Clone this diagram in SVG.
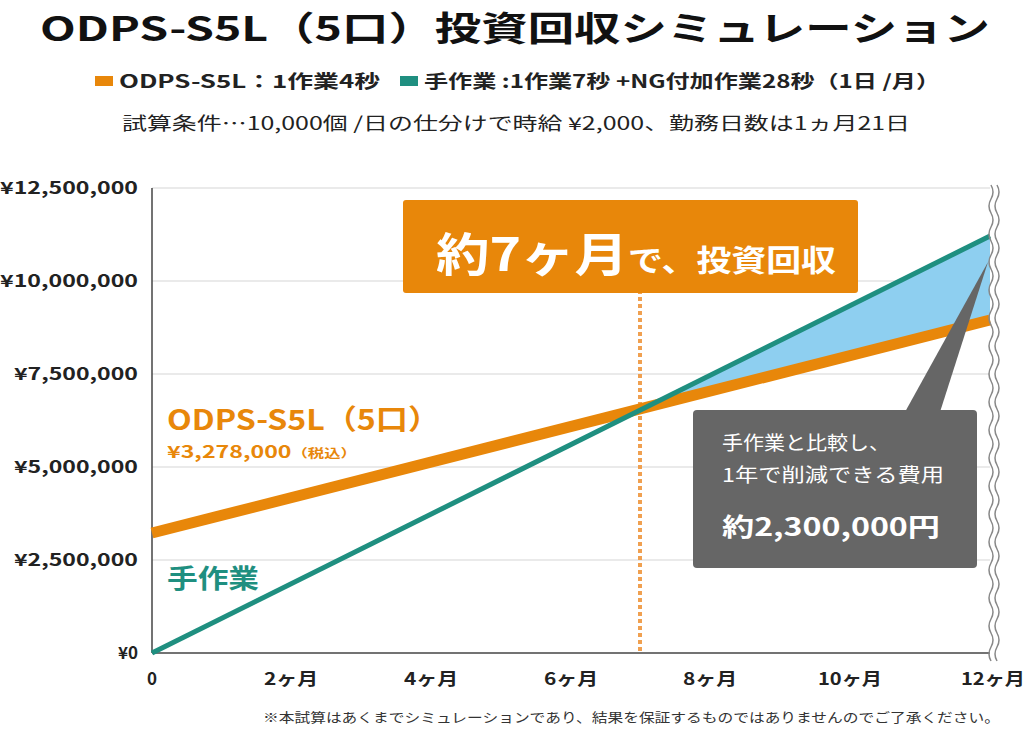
<svg xmlns="http://www.w3.org/2000/svg" width="1024" height="729" viewBox="0 0 1024 729">
<defs>
<style>
text{font-family:"Noto Sans CJK JP","Noto Sans",sans-serif;}
.grid{stroke:#e3e3e3;stroke-width:1.5;}
.ax{font-size:17px;font-weight:bold;fill:#222;}
.ay{font-size:17px;font-weight:bold;fill:#222;text-anchor:end;}
.wave{fill:none;stroke:#888;stroke-width:1.5;}
</style>
<path id="wv" d="M0 185 q4 7 0 14 q-4 7 0 14 q4 7 0 14 q-4 7 0 14 q4 7 0 14 q-4 7 0 14 q4 7 0 14 q-4 7 0 14 q4 7 0 14 q-4 7 0 14 q4 7 0 14 q-4 7 0 14 q4 7 0 14 q-4 7 0 14 q4 7 0 14 q-4 7 0 14 q4 7 0 14 q-4 7 0 14 q4 7 0 14 q-4 7 0 14 q4 7 0 14 q-4 7 0 14 q4 7 0 14 q-4 7 0 14 q4 7 0 14 q-4 7 0 14 q4 7 0 14 q-4 7 0 14 q4 7 0 14 q-4 7 0 14 q4 7 0 14 q-4 7 0 14 q4 7 0 14 q-4 7 0 14"/>
</defs>
<rect width="1024" height="729" fill="#fff"/>
<g id="title">
<text x="40" y="41" font-size="34" font-weight="bold" fill="#111" textLength="950" lengthAdjust="spacingAndGlyphs">ODPS-S5L（5口）投資回収シミュレーション</text>
<rect x="95" y="76" width="18" height="10" fill="#e8870a"/>
<text x="119" y="88" font-size="18" font-weight="bold" fill="#222" textLength="261" lengthAdjust="spacingAndGlyphs">ODPS-S5L：1作業4秒</text>
<rect x="400" y="76" width="18" height="10" fill="#1f8f80"/>
<text x="424" y="88" font-size="18" font-weight="bold" fill="#222" textLength="516" lengthAdjust="spacingAndGlyphs">手作業 :1作業7秒 +NG付加作業28秒（1日 /月）</text>
<text x="122" y="130" font-size="18" fill="#222" textLength="788" lengthAdjust="spacingAndGlyphs">試算条件…10,000個 /日の仕分けで時給 ¥2,000、勤務日数は1ヵ月21日</text>
</g>
<g id="axes">
<line class="grid" x1="152" y1="188" x2="990" y2="188"/>
<line class="grid" x1="152" y1="281" x2="990" y2="281"/>
<line class="grid" x1="152" y1="374" x2="990" y2="374"/>
<line class="grid" x1="152" y1="467" x2="990" y2="467"/>
<line class="grid" x1="152" y1="560" x2="990" y2="560"/>
<line x1="152" y1="188" x2="152" y2="653" stroke="#444" stroke-width="1.5"/>
<line x1="152" y1="653" x2="990" y2="653" stroke="#444" stroke-width="1.5"/>
<text class="ay" x="138" y="194" textLength="138" lengthAdjust="spacingAndGlyphs">¥12,500,000</text>
<text class="ay" x="138" y="287" textLength="138" lengthAdjust="spacingAndGlyphs">¥10,000,000</text>
<text class="ay" x="138" y="380" textLength="124" lengthAdjust="spacingAndGlyphs">¥7,500,000</text>
<text class="ay" x="138" y="473" textLength="124" lengthAdjust="spacingAndGlyphs">¥5,000,000</text>
<text class="ay" x="138" y="566" textLength="124" lengthAdjust="spacingAndGlyphs">¥2,500,000</text>
<text class="ay" x="138" y="659">¥0</text>
<text class="ax" x="152" y="685" text-anchor="middle">0</text>
<text class="ax" x="291" y="685" text-anchor="middle" textLength="54" lengthAdjust="spacingAndGlyphs">2ヶ月</text>
<text class="ax" x="431" y="685" text-anchor="middle" textLength="54" lengthAdjust="spacingAndGlyphs">4ヶ月</text>
<text class="ax" x="571" y="685" text-anchor="middle" textLength="54" lengthAdjust="spacingAndGlyphs">6ヶ月</text>
<text class="ax" x="710" y="685" text-anchor="middle" textLength="54" lengthAdjust="spacingAndGlyphs">8ヶ月</text>
<text class="ax" x="850" y="685" text-anchor="middle" textLength="64" lengthAdjust="spacingAndGlyphs">10ヶ月</text>
<text class="ax" x="993" y="685" text-anchor="middle" textLength="64" lengthAdjust="spacingAndGlyphs">12ヶ月</text>
</g>
<g id="connectors">
<polygon points="640,408 990,236 990,320" fill="#8ecff0"/>
<line x1="640" y1="290" x2="640" y2="653" stroke="#f0a050" stroke-width="4" stroke-dasharray="4,3"/>
<line x1="152" y1="533" x2="990" y2="320" stroke="#e8870a" stroke-width="11"/>
<line x1="152" y1="653" x2="990" y2="236" stroke="#1f8f80" stroke-width="5"/>
<use href="#wv" x="991" class="wave"/>
<use href="#wv" x="997" class="wave"/>
</g>
<g id="labels">
<text x="167" y="430" font-size="28" font-weight="bold" fill="#e8870a" textLength="273" lengthAdjust="spacingAndGlyphs">ODPS-S5L（5口）</text>
<text x="167" y="458" font-size="17" font-weight="bold" fill="#e8870a" textLength="190" lengthAdjust="spacingAndGlyphs">¥3,278,000<tspan font-size="12">（税込）</tspan></text>
<text x="167" y="588" font-size="26" font-weight="bold" fill="#1f8f80" textLength="92" lengthAdjust="spacingAndGlyphs">手作業</text>
</g>
<g id="callout-orange">
<rect x="403" y="200" width="455" height="93" rx="3" fill="#e8870a"/>
<text x="436" y="271" font-size="46" font-weight="bold" fill="#fff" textLength="400" lengthAdjust="spacingAndGlyphs">約7ヶ月<tspan font-size="30">で、投資回収</tspan></text>
</g>
<g id="callout-grey">
<polygon points="905,412 940,412 988,262" fill="#666"/>
<rect x="693" y="410" width="284" height="158" rx="4" fill="#666"/>
<text x="722" y="450" font-size="19" fill="#fff" textLength="168" lengthAdjust="spacingAndGlyphs">手作業と比較し、</text>
<text x="722" y="482" font-size="19" fill="#fff" textLength="222" lengthAdjust="spacingAndGlyphs">1年で削減できる費用</text>
<text x="722" y="536" font-size="25" font-weight="bold" fill="#fff" textLength="218" lengthAdjust="spacingAndGlyphs">約2,300,000円</text>
</g>
<text x="263" y="722" font-size="13" fill="#333" textLength="737" lengthAdjust="spacingAndGlyphs">※本試算はあくまでシミュレーションであり、結果を保証するものではありませんのでご了承ください。</text>
</svg>
